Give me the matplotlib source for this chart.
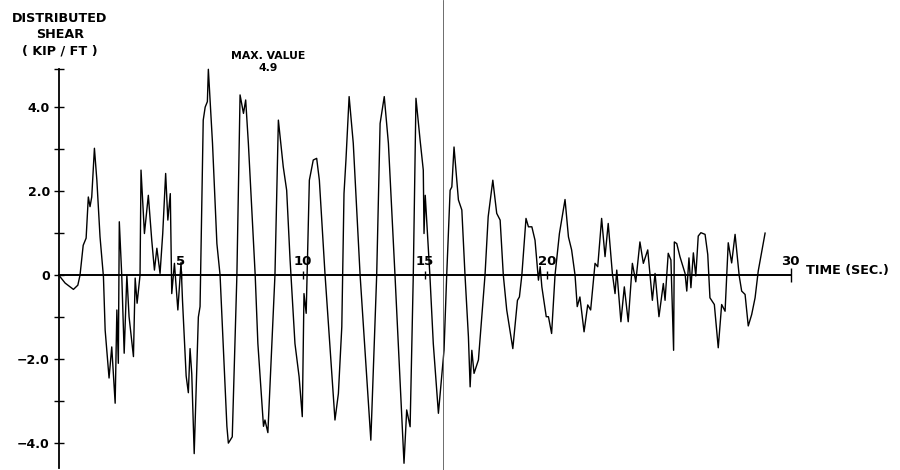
import matplotlib
matplotlib.use("Agg")
import matplotlib.pyplot as plt

# distributed shear history (kip/ft) against time (sec)
time = [0, 0.26, 0.6, 0.78, 0.87, 1.0, 1.12, 1.21, 1.28, 1.35, 1.46, 1.56, 1.69, 1.83,
        1.9, 2.06, 2.17, 2.31, 2.38, 2.44, 2.48, 2.58, 2.68, 2.79, 2.88, 3.06, 3.13,
        3.21, 3.33, 3.37, 3.51, 3.67, 3.81, 3.92, 4.02, 4.15, 4.26, 4.38, 4.47, 4.57,
        4.63, 4.74, 4.88, 5.01, 5.07, 5.22, 5.31, 5.38, 5.45, 5.55, 5.72, 5.79, 5.92,
        6.0, 6.09, 6.13, 6.3, 6.48, 6.61, 6.89, 6.95, 7.11, 7.3, 7.43, 7.57, 7.66,
        7.77, 8.05, 8.16, 8.39, 8.45, 8.57, 8.86, 9.0, 9.2, 9.34, 9.48, 9.68, 9.85,
        9.98, 10.05, 10.14, 10.27, 10.43, 10.57, 10.68, 10.91, 11.15, 11.32, 11.46,
        11.6, 11.69, 11.77, 11.9, 12.07, 12.35, 12.79, 13.03, 13.17, 13.34, 13.51,
        13.78, 13.98, 14.15, 14.26, 14.4, 14.53, 14.64, 14.81, 14.94, 14.97, 15.02,
        15.21, 15.35, 15.56, 15.79, 15.9, 16.04, 16.11, 16.2, 16.38, 16.52, 16.65,
        16.79, 16.86, 16.93, 17.02, 17.2, 17.47, 17.6, 17.79, 17.95, 18.09, 18.22,
        18.36, 18.61, 18.8, 18.88, 18.98, 19.15, 19.25, 19.39, 19.52, 19.66, 19.73,
        19.8, 19.98, 20.07, 20.2, 20.34, 20.52, 20.75, 20.89, 21.02, 21.16, 21.25,
        21.36, 21.53, 21.68, 21.8, 21.98, 22.09, 22.25, 22.39, 22.52, 22.69, 22.8,
        22.87, 23.04, 23.18, 23.34, 23.51, 23.65, 23.82, 23.96, 24.14, 24.33, 24.44,
        24.6, 24.78, 24.85, 24.98, 25.09, 25.2, 25.23, 25.33, 25.46, 25.67, 25.74,
        25.83, 25.91, 26.01, 26.11, 26.21, 26.32, 26.49, 26.6, 26.69, 26.87, 27.03,
        27.17, 27.31, 27.44, 27.58, 27.72, 27.89, 27.99, 28.13, 28.26, 28.4, 28.54,
        28.67, 28.84, 28.95]
shear = [0, -0.19, -0.34, -0.24, 0, 0.71, 0.88, 1.86, 1.63, 1.86, 3.02, 2.26, 0.91, -0.04,
         -1.31, -2.45, -1.71, -3.05, -0.83, -2.1, 1.27, 0, -1.86, 0, -0.99, -1.94, -0.07,
         -0.67, 0, 2.5, 0.99, 1.9, 0.83, 0.12, 0.64, 0.04, 0.99, 2.42, 1.31, 1.94,
         -0.44, 0.28, -0.83, 0.3, -0.6, -2.4, -2.8, -1.75, -2.35, -4.25, -1.0, -0.75, 3.69,
         4.0, 4.13, 4.9, 3.14, 0.75, 0, -3.6, -4.0, -3.85, 0, 4.29, 3.85, 4.17,
         3.14, 0, -1.63, -3.6, -3.45, -3.75, 0, 3.69, 2.58, 2.02, 0.36, -1.63, -2.42,
         -3.37, -0.44, -0.91, 2.26, 2.74, 2.78, 2.26, 0.04, -2.02, -3.45, -2.82,
         -1.23, 1.94, 2.74, 4.25, 3.14, 0, -3.93, 0, 3.61, 4.25, 3.14,
         0, -2.42, -4.48, -3.21, -3.61, 0, 4.21, 3.21, 2.5, 0.99, 1.9,
         0, -1.63, -3.29, -1.79, 0, 2.02, 2.1, 3.05, 1.79, 1.55, 0,
         -1.47, -2.66, -1.79, -2.34, -2.02, 0, 1.39, 2.26, 1.47, 1.31, 0,
         -0.83, -1.75, -0.6, -0.52, 0, 1.35, 1.15, 1.15, 0.83, -0.12, 0.2,
         -0.28, -0.99, -0.99, -1.39, 0, 0.99, 1.8, 0.91, 0.6, 0, -0.75,
         -0.52, -1.35, -0.71, -0.83, 0.28, 0.2, 1.35, 0.44, 1.23, 0.04, -0.44,
         0.12, -1.11, -0.28, -1.11, 0.28, -0.16, 0.79, 0.28, 0.6, -0.6, 0.04,
         -0.99, -0.2, -0.6, 0.52, 0.36, -1.79, 0.79, 0.75, 0.44, 0.04, -0.38,
         0.41, -0.3, 0.53, -0.02, 0.93, 1.01, 0.97, 0.49, -0.54, -0.7, -1.73,
         -0.7, -0.86, 0.77, 0.29, 0.97, -0.02, -0.38, -0.46, -1.21, -0.94, -0.54,
         0.1, 0.65, 1.0]

y_ticks = [-4, -3, -2, -1, 0, 1, 2, 3, 4]
y_labels = ["\u22124.0", "", "\u22122.0", "", "0", "", "2.0", "", "4.0"]
x_ticks = [5, 10, 15, 20, 30]
x_labels = ["5", "10", "15", "20", "30"]
max_value = 4.9
y_top, y_bottom = 4.9, -4.6
t_end = 30
scan_line_t = 15.75  # fold line on the scanned sheet

fig = plt.figure(figsize=(9, 4.7), dpi=100)
ax = fig.add_axes([0, 0, 1, 1])
ax.set_xlim(-2.41, 34.48)
ax.set_ylim(-4.64, 6.55)

ax.plot(time, shear, color="black", lw=1.0)
ax.axvline(scan_line_t, color="#555555", lw=0.6)

for side in ["top", "right"]:
    ax.spines[side].set_visible(False)
ax.spines["left"].set_position(("data", 0))
ax.spines["bottom"].set_position(("data", 0))
ax.spines["left"].set_bounds(y_bottom, y_top)
ax.spines["bottom"].set_bounds(0, t_end)
ax.spines["left"].set_linewidth(1.3)
ax.spines["bottom"].set_linewidth(1.4)

ax.set_yticks(y_ticks + [y_top], y_labels + [""])
ax.tick_params(axis="y", direction="inout", length=7, width=1, pad=3, labelsize=9)
for lab in ax.get_yticklabels():
    lab.set_fontweight("bold")
ax.set_xticks(x_ticks)
ax.tick_params(axis="x", direction="inout", length=6, width=1, labelbottom=False)
ax.xaxis.get_major_ticks()[-1].tick1line.set_markersize(10)

for t, lab in zip(x_ticks, x_labels):
    ax.annotate(lab, (t, 0), xytext=(0, 5), textcoords="offset points",
                ha="center", va="bottom", fontsize=9.5, fontweight="bold")

fig.text(60 / 900, 1 - 35 / 470, "DISTRIBUTED\nSHEAR\n( KIP / FT )", ha="center",
         va="center", fontsize=9.2, fontweight="bold", linespacing=1.35)
fig.text(268 / 900, 1 - 62 / 470, "MAX. VALUE\n%.1f" % max_value, ha="center",
         va="center", fontsize=7.8, fontweight="bold", linespacing=1.3)
ax.annotate("TIME (SEC.)", (t_end, 0), xytext=(11, 3), textcoords="offset points",
            ha="left", va="center", fontsize=9.2, fontweight="bold")

fig.savefig("out.png", dpi=100)
